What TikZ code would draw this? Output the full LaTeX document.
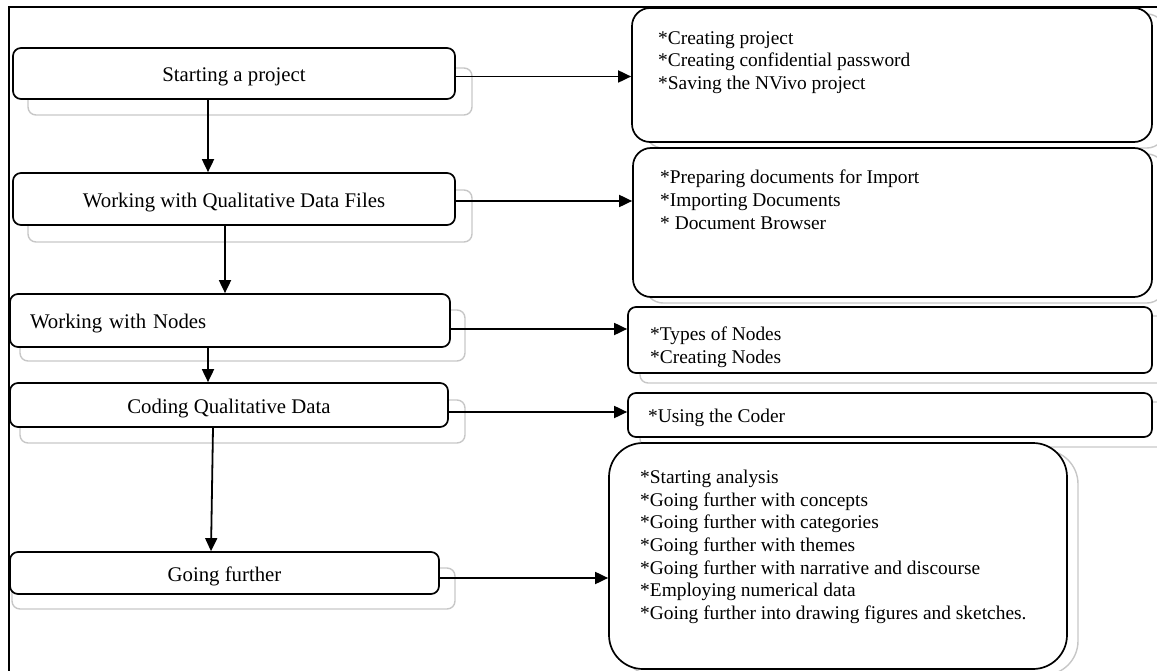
\documentclass[tikz,border=0pt]{standalone}
\usepackage{fontspec}
\setmainfont{Liberation Serif}
\usetikzlibrary{arrows.meta,calc}
\begin{document}
\begin{tikzpicture}[x=1pt,y=-1pt,
  lbox/.style={draw=black,line width=1.7pt,fill=white,rounded corners=8pt,inner sep=0pt,
    font=\fontsize{20.8}{24}\selectfont,text height=21pt,text depth=4.5pt},
  shad/.style={draw=black!22,line width=1.4pt,rounded corners=8pt},
  rbox/.style={draw=black,line width=1.7pt,fill=white,inner sep=0pt},
  list/.style={font=\fontsize{19.4}{22.6}\selectfont,align=left,anchor=north west,inner sep=0pt},
  arr/.style={line width=1.8pt,-{Triangle[length=13pt,width=12pt]}}]
\useasboundingbox (0,0) rectangle (1157,671);
% frame
\draw[line width=2pt] (9,671) -- (9,7) -- (1157,7);
% shadows of left boxes
\draw[shad] (28,68) rectangle (472,115);
\draw[shad] (28,190) rectangle (472,242);
\draw[shad] (20,310) rectangle (465,361);
\draw[shad] (20,400) rectangle (465,443);
\draw[shad] (12,568) rectangle (455,609);
% shadows of right boxes
\draw[shad,rounded corners=18pt] (645,14) rectangle (1165,148);
\draw[shad,rounded corners=18pt] (645,154) rectangle (1165,303);
\draw[shad] (640,316) rectangle (1165,383);
\draw[shad] (640,402) rectangle (1165,447);
\draw[shad,rounded corners=34pt] (620,450) rectangle (1078,675);
% left boxes
\node[lbox,minimum width=442pt,minimum height=51pt] (b1) at (234,73.5) {Starting a project};
\node[lbox,minimum width=442pt,minimum height=52pt] (b2) at (234,199) {Working with Qualitative Data Files};
\node[lbox,minimum width=440pt,minimum height=53pt,text width=400pt,inner xsep=20pt,align=left] (b3) at (230,320.5) {Working with Nodes};
\node[lbox,minimum width=438pt,minimum height=44pt] (b4) at (229,405) {Coding Qualitative Data};
\node[lbox,minimum width=429pt,minimum height=42pt] (b5) at (224.5,573) {Going further};
% right boxes
\node[rbox,rounded corners=18pt,minimum width=520pt,minimum height=134pt] (r1) at (892,75) {};
\node[rbox,rounded corners=18pt,minimum width=519pt,minimum height=149pt] (r2) at (892.5,222.5) {};
\node[rbox,rounded corners=8pt,minimum width=524pt,minimum height=66pt] (r3) at (890,340) {};
\node[rbox,rounded corners=8pt,minimum width=524pt,minimum height=44pt] (r4) at (890,415) {};
\node[rbox,rounded corners=34pt,minimum width=458pt,minimum height=226pt] (r5) at (838,556) {};
% texts of right boxes
\node[list] (t1) at (658,31) {*Creating project\\*Creating confidential password\\*Saving the NVivo project};
\node[list] (t2) at (660,170) {*Preparing documents for Import\\*Importing Documents\\* Document Browser};
\node[list] (t3) at (650,327) {*Types of Nodes\\*Creating Nodes};
\node[list] (t4) at (648,409) {*Using the Coder};
\node[list] (t5) at (640,470) {*Starting analysis\\*Going further with concepts\\*Going further with categories\\*Going further with themes\\*Going further with narrative and discourse\\*Employing numerical data\\*Going further into drawing figures and sketches.};
% vertical arrows
\draw[arr] ([xshift=-26pt]b1.south) -- ([xshift=-26pt]b2.north);
\draw[arr] ([xshift=-9pt]b2.south) -- ([xshift=-5pt]b3.north);
\draw[arr] ([xshift=-22pt]b3.south) -- ([xshift=-21pt]b4.north);
\draw[arr] ([xshift=-16pt]b4.south) -- ([xshift=-13.5pt]b5.north);
% horizontal arrows
\draw[arr] ([yshift=-3pt]b1.east) -- ([yshift=-3pt]b1.east -| r1.west);
\draw[arr] ([yshift=-2pt]b2.east) -- ([yshift=-2pt]b2.east -| r2.west);
\draw[arr] ([yshift=-8.5pt]b3.east) -- ([yshift=-8.5pt]b3.east -| r3.west);
\draw[arr] ([yshift=-7pt]b4.east) -- ([yshift=-7pt]b4.east -| r4.west);
\draw[arr] ([yshift=-5pt]b5.east) -- ([yshift=-5pt]b5.east -| r5.west);
\end{tikzpicture}
\end{document}
